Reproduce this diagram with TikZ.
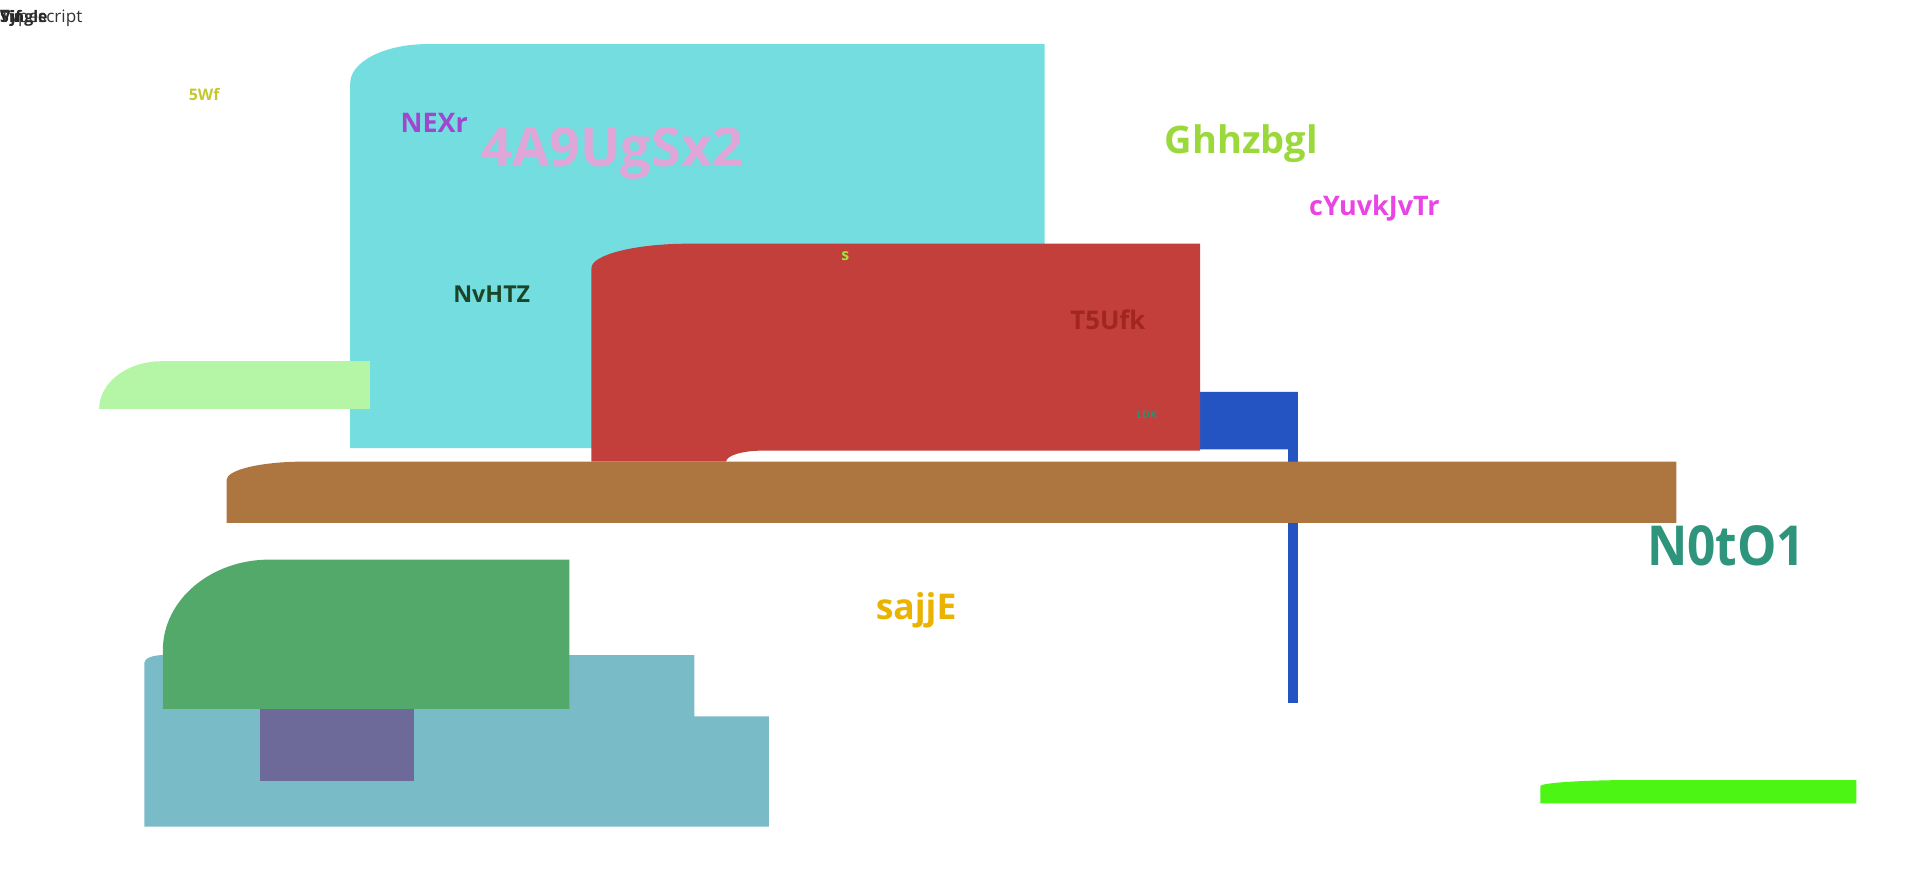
\documentclass[tikz,border=0pt]{standalone}
\usepackage{fontspec}
\setmainfont{Open Sans}
\newcommand{\fsz}[1]{\fontsize{#1}{#1}\selectfont}
\definecolor{cyanbox}{HTML}{74DDE0}
\definecolor{mintbox}{HTML}{B4F5A6}
\definecolor{redbox}{HTML}{C23F3C}
\definecolor{bluebox}{HTML}{2453C2}
\definecolor{brownbar}{HTML}{AD7641}
\definecolor{greenbox}{HTML}{53A96A}
\definecolor{tealbox}{HTML}{79BCC7}
\definecolor{violetbox}{HTML}{6D6A9A}
\definecolor{limebar}{HTML}{4CF514}
\begin{document}
\begin{tikzpicture}[x=1pt, y=-1pt, line join=round,
		lbl/.style={anchor=base west, inner sep=0pt}]
	\useasboundingbox (0,0) rectangle (1568,711);
	% back shapes
	\fill[cyanbox] (286,366) -- (286,68) arc[start angle=180, end angle=90, x radius=63pt, y radius=32pt] -- (853,36) -- (853,366) -- cycle;
	\fill[mintbox] (81,334) arc[start angle=180, end angle=90, x radius=51pt, y radius=39pt] -- (302,295) -- (302,334) -- cycle;
	\fill[bluebox] (980,320) -- (1060,320) -- (1060,574) -- (1052,574) -- (1052,367) -- (980,367) -- cycle;
	\fill[redbox] (483,377) -- (483,219) arc[start angle=180, end angle=90, x radius=80pt, y radius=20pt] -- (980,199) -- (980,368) -- (623,368) arc[start angle=90, end angle=180, x radius=30pt, y radius=9pt] -- cycle;
	\fill[brownbar] (185,427) -- (185,392) arc[start angle=180, end angle=90, x radius=63pt, y radius=15pt] -- (1369,377) -- (1369,427) -- cycle;
	\fill[tealbox] (118,675) -- (118,541) arc[start angle=180, end angle=90, x radius=15pt, y radius=6pt] -- (567,535) -- (567,585) -- (628,585) -- (628,675) -- cycle;
	\fill[violetbox] (212,579) rectangle (338,638);
	\fill[greenbox] (133,579) -- (133,531) arc[start angle=180, end angle=90, x radius=87pt, y radius=74pt] -- (465,457) -- (465,579) -- cycle;
	\fill[limebar] (1258,656) -- (1258,642) arc[start angle=180, end angle=90, x radius=79pt, y radius=5pt] -- (1516,637) -- (1516,656) -- cycle;
	% labels
	\node[lbl, font=\bfseries\fsz{13}, text=black!85] (vjf) at (0,18) {Vjf};
	\node[lbl, font=\bfseries\fsz{13}, text=black!85] (single) at (0,18) {Single};
	\node[lbl, font=\fsz{14}, text=black!80] (tscript) at (0,18) {Typescript};
	\node[lbl, font=\bfseries\fsz{13}, text={rgb,255:red,195;green,200;blue,46}] (fivewf) at (154,82) {5Wf};
	\node[lbl, font=\bfseries\fsz{22}, text={rgb,255:red,160;green,71;blue,207}] (nexr) at (327,108) {NEXr};
	\node[lbl, font=\bfseries\fsz{44}, text={rgb,255:red,224;green,166;blue,216}] (fouraa) at (393,136) {4A9UgSx2};
	\node[lbl, font=\bfseries\fsz{31}, text={rgb,255:red,155;green,216;blue,60}] (ghhz) at (951,125) {Ghhzbgl};
	\node[lbl, font=\bfseries\fsz{22}, text={rgb,255:red,233;green,68;blue,228}] (cyuv) at (1069,176) {cYuvkJvTr};
	\node[lbl, font=\bfseries\fsz{19}, text={rgb,255:red,28;green,69;blue,40}] (nvhtz) at (370,247) {NvHTZ};
	\node[lbl, font=\bfseries\fsz{13}, text={rgb,255:red,162;green,224;blue,60}] (sred) at (687,213) {s};
	\node[lbl, font=\bfseries\fsz{21}, text={rgb,255:red,161;green,37;blue,33}] (tfive) at (874,269) {T5Ufk};
	\node[lbl, font=\bfseries\fsz{8.5}, text={rgb,255:red,47;green,143;blue,110}] (ldk) at (928,342) {LDK};
	\node[lbl, font=\bfseries\fsz{45}, xscale=0.9, text={rgb,255:red,46;green,148;blue,124}] (nzero) at (1345,462) {N0tO1};
	\node[lbl, font=\bfseries\fsz{29}, text={rgb,255:red,235;green,179;blue,0}] (sajje) at (715,506) {sajjE};
\end{tikzpicture}
\end{document}
